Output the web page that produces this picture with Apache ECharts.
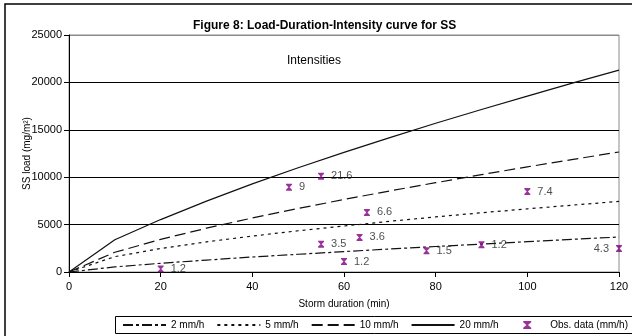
<!DOCTYPE html>
<html>
<head>
<meta charset="utf-8">
<script src="https://cdn.jsdelivr.net/npm/echarts@6/dist/echarts.min.js"></script>
<style>html,body{margin:0;padding:0;background:#fff;}#c{width:632px;height:336px;}</style>
</head>
<body>
<div id="c"></div>
<script>
// ---- data ----
var durations = [0, 10, 20, 30, 40, 50, 60, 70, 80, 90, 100, 110, 120];
var load2  = [0, 540, 920, 1260, 1580, 1870, 2150, 2430, 2690, 2950, 3200, 3450, 3690];
var load5  = [0, 1620, 2480, 3180, 3790, 4350, 4850, 5350, 5810, 6250, 6660, 7060, 7450];
var load10 = [0, 2080, 3440, 4620, 5700, 6700, 7650, 8550, 9420, 10270, 11090, 11880, 12660];
var load20 = [0, 3400, 5530, 7480, 9290, 11000, 12620, 14180, 15690, 17140, 18560, 19950, 21300];
var obsDuration = [20, 48, 55, 65, 100, 55, 63.4, 60, 78, 90, 120];
var obsLoad     = [320, 8940, 10110, 6280, 8480, 2940, 3650, 1100, 2230, 2870, 2480];
var obsLabel    = ['1.2', '9', '21.6', '6.6', '7.4', '3.5', '3.6', '1.2', '1.5', '1.2', '4.3'];
var seriesNames = ['2 mm/h', '5 mm/h', '10 mm/h', '20 mm/h', 'Obs. data (mm/h)'];
var yTicks = [0, 5000, 10000, 15000, 20000, 25000];
var xTicks = [0, 20, 40, 60, 80, 100, 120];

var FONT = 'Liberation Sans, Arial, Helvetica, sans-serif';
function pairs(xs, ys) { return xs.map(function (x, i) { return [x, ys[i]]; }); }
function lineSeries(name, ys, dash) {
  return {
    name: name, type: 'line', data: pairs(durations, ys), symbol: 'none', smooth: false,
    lineStyle: { color: '#111', width: 1.2, type: dash }, itemStyle: { color: '#111' },
    z: 3, silent: true
  };
}
var obsData = obsDuration.map(function (x, i) {
  var d = { value: [x, obsLoad[i]], name: obsLabel[i] };
  if (x >= 120) d.label = { position: 'left', distance: 7 };
  return d;
});
var lineLegendData = seriesNames.slice(0, 4).map(function (n) {
  return { name: n, itemStyle: { opacity: 0 } };
});
var splitColors = yTicks.map(function (v, i) { return i === yTicks.length - 1 ? '#8a8a8a' : '#000'; });
var legendText = { fontFamily: FONT, fontSize: 10, color: '#000' };

var chart = echarts.init(document.getElementById('c'), null, { renderer: 'canvas' });
chart.setOption({
  animation: false,
  backgroundColor: '#fff',
  textStyle: { fontFamily: FONT },
  title: {
    text: 'Figure 8: Load-Duration-Intensity curve for SS',
    left: 188, top: 15,
    textStyle: { fontFamily: FONT, fontSize: 12, fontWeight: 'bold', color: '#000' }
  },
  grid: {
    left: 69, right: 13, top: 35, bottom: 64,
    show: true, borderColor: '#8a8a8a', borderWidth: 1, backgroundColor: 'transparent'
  },
  xAxis: {
    type: 'value', min: xTicks[0], max: xTicks[xTicks.length - 1], interval: 20,
    name: 'Storm duration (min)', nameLocation: 'middle', nameGap: 27,
    nameTextStyle: { fontFamily: FONT, fontSize: 10, color: '#000' },
    axisLine: { show: true, onZero: false, lineStyle: { color: '#000', width: 1 } },
    axisTick: { show: true, inside: false, length: 5, lineStyle: { color: '#000' } },
    axisLabel: { color: '#000', fontFamily: FONT, fontSize: 11, margin: 9 },
    splitLine: { show: false }
  },
  yAxis: {
    type: 'value', min: yTicks[0], max: yTicks[yTicks.length - 1], interval: 5000,
    name: 'SS load (mg/m²)', nameLocation: 'middle', nameGap: 37, nameRotate: 90,
    nameMoveOverlap: false,
    nameTextStyle: { fontFamily: FONT, fontSize: 10, color: '#000' },
    axisLine: { show: true, lineStyle: { color: '#000', width: 1 } },
    axisTick: { show: true, inside: false, length: 5, lineStyle: { color: '#000' } },
    axisLabel: { color: '#000', fontFamily: FONT, fontSize: 11, margin: 7, formatter: function (v) { return String(v); } },
    splitLine: { show: true, lineStyle: { color: splitColors, width: 1 } }
  },
  legend: [
    {
      data: lineLegendData,
      left: 122, top: 320, orient: 'horizontal', padding: 0,
      itemWidth: 43, itemHeight: 10, itemGap: 12,
      textStyle: legendText, selectedMode: false
    },
    {
      data: [seriesNames[4]],
      right: 4, top: 320, orient: 'horizontal', padding: 0,
      itemWidth: 36, itemHeight: 8,
      textStyle: legendText, selectedMode: false
    }
  ],
  graphic: [
    { type: 'rect', shape: { x: 5, y: 4, width: 700, height: 400 }, style: { fill: 'none', stroke: '#000', lineWidth: 1.5 }, z: -10, silent: true },
    { type: 'rect', shape: { x: 115.5, y: 316.5, width: 600, height: 17 }, style: { fill: 'none', stroke: '#000', lineWidth: 1 }, z: -10, silent: true },
    { type: 'text', left: 287, top: 55, style: { text: 'Intensities', font: '12px ' + FONT, fill: '#000' }, silent: true }
  ],
  series: [
    lineSeries(seriesNames[0], load2, [10, 3, 3, 3]),
    lineSeries(seriesNames[1], load5, [3, 4]),
    lineSeries(seriesNames[2], load10, [11, 5]),
    lineSeries(seriesNames[3], load20, 'solid'),
    {
      name: seriesNames[4], type: 'scatter', data: obsData,
      symbol: 'path://M0,0 L10,0 L10,1.5 L6,5 L10,8.5 L10,10 L0,10 L0,8.5 L4,5 L0,1.5 Z',
      symbolSize: [6, 7],
      itemStyle: { color: '#800080' },
      label: {
        show: true, position: 'right', distance: 7,
        formatter: function (p) { return p.name; },
        fontFamily: FONT, fontSize: 11, color: '#222'
      },
      z: 5
    }
  ]
});
</script>
</body>
</html>
